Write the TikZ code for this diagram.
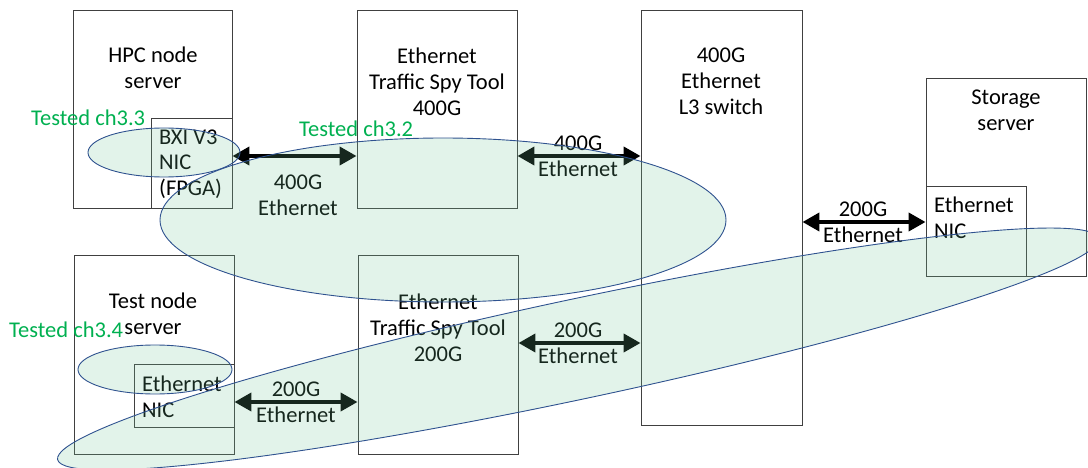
\documentclass[tikz,border=0pt]{standalone}
\usepackage{fontspec}
\setmainfont{Carlito}
\usetikzlibrary{arrows.meta,calc}
\definecolor{hlfill}{RGB}{110,195,150}
\definecolor{hlline}{RGB}{47,82,143}
\definecolor{tgreen}{RGB}{0,176,80}
\begin{document}
\begin{tikzpicture}[x=1pt,y=-1pt,
  box/.style={draw=black!75, line width=0.9pt, inner sep=0pt, fill=none},
  txt/.style={inner sep=0pt, align=center, font=\fontsize{22.5}{26}\selectfont},
  ltxt/.style={inner sep=0pt, align=left, font=\fontsize{22.5}{25.5}\selectfont},
  gtxt/.style={inner sep=0pt, text=tgreen, font=\fontsize{22.5}{26}\selectfont},
  biarrow/.style={line width=4pt, {Triangle[length=17pt,width=18pt]}-{Triangle[length=17pt,width=18pt]}},
  hl/.style={draw=hlline, line width=0.9pt, fill=hlfill, fill opacity=0.2}
]
\useasboundingbox (0,0) rectangle (1088,468);
% boxes
\node[box, minimum width=159pt, minimum height=198pt] (hpc) at (152.5,109) {};
\node[box, minimum width=81pt, minimum height=90pt] (bxi) at (191.5,163) {};
\node[box, minimum width=160pt, minimum height=198pt] (spy4) at (437,109) {};
\node[box, minimum width=161pt, minimum height=415pt] (sw) at (721.5,217.5) {};
\node[box, minimum width=160pt, minimum height=198pt] (stor) at (1006,177) {};
\node[box, minimum width=100pt, minimum height=90pt] (snic) at (976,231) {};
\node[box, minimum width=160pt, minimum height=199pt] (test) at (154,354.5) {};
\node[box, minimum width=100pt, minimum height=63pt] (tnic) at (184,395.5) {};
\node[box, minimum width=160pt, minimum height=199pt] (spy2) at (438,354.5) {};
% box texts
\node[txt] (thpc) at (153,68) {HPC node\\server};
\node[ltxt, anchor=west] (tbxi) at (159,164) {BXI V3\\NIC\\(FPGA)};
\node[txt] (tspy4) at (437,81.5) {Ethernet\\Traffic Spy Tool\\400G};
\node[txt] (tsw) at (721,81.5) {400G\\Ethernet\\L3 switch};
\node[txt] (tstor) at (1006,110.5) {Storage\\server};
\node[ltxt, anchor=west] (tsnic) at (934,218) {Ethernet\\NIC};
\node[txt] (ttest) at (153,314) {Test node\\server};
\node[ltxt, anchor=west] (ttnic) at (142,397) {Ethernet\\NIC};
\node[txt] (tspy2) at (438,327.5) {Ethernet\\Traffic Spy Tool\\200G};
% connector anchor points
\coordinate (a1s) at ([yshift=-47pt]hpc.east);
\coordinate (a1e) at ([yshift=-47pt]spy4.west);
\coordinate (a2s) at ([yshift=-47pt]spy4.east);
\coordinate (a3e) at ([yshift=9pt]snic.west);
\coordinate (a4s) at ([yshift=-47.5pt]test.east);
\coordinate (a4e) at ([yshift=-47.5pt]spy2.west);
\coordinate (a5s) at ([yshift=11.5pt]spy2.east);
% arrows
\draw[biarrow] (a1s) -- (a1e);
\draw[biarrow] (a2s) -- (sw.west |- a2s);
\draw[biarrow] (sw.east |- a3e) -- (a3e);
\draw[biarrow] (a4s) -- (a4e);
\draw[biarrow] (a5s) -- (sw.west |- a5s);
% arrow labels
\node[txt] (l1) at (298,195) {400G\\Ethernet};
\node[txt] (l2) at (578,156.5) {400G\\Ethernet};
\node[txt] (l3) at (863,222.5) {200G\\Ethernet};
\node[txt] (l4) at (296,402) {200G\\Ethernet};
\node[txt] (l5) at (578,343.5) {200G\\Ethernet};
% highlight ellipses
\draw[hl] (443,220) ellipse [x radius=283, y radius=82];
\draw[hl] (164,152.5) ellipse [x radius=76, y radius=24.5];
\draw[hl] (155,369.5) ellipse [x radius=77, y radius=24.5];
\draw[hl] (578,349) ellipse [x radius=532, y radius=50, rotate=12];
% green labels
\node[gtxt, anchor=west] (g33) at (31,118) {Tested ch3.3};
\node[gtxt, anchor=west] (g32) at (299,129) {Tested ch3.2};
\node[gtxt, anchor=west] (g34) at (9,330) {Tested ch3.4};
\end{tikzpicture}
\end{document}
